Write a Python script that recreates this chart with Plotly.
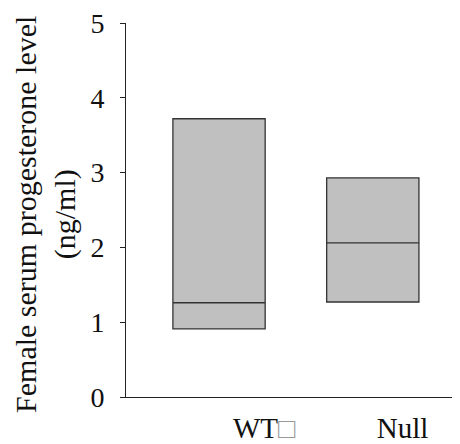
import plotly.graph_objects as go

# Data (ng/ml)
groups = ["WT", "Null"]
tick_labels = ["WT<span style='color:#999'>□</span>", "Null"]
low_vals = [0.91, 1.27]
median_vals = [1.26, 2.06]
high_vals = [3.72, 2.93]
y_ticks = [0, 1, 2, 3, 4, 5]

positions = [1, 2]
label_offsets = [0.294, 0.193]

FONT = "Liberation Serif, Times New Roman, serif"

fig = go.Figure()
for i, g in enumerate(groups):
    fig.add_trace(go.Box(
        x=[positions[i]],
        q1=[low_vals[i]],
        median=[median_vals[i]],
        q3=[high_vals[i]],
        lowerfence=[low_vals[i]],
        upperfence=[high_vals[i]],
        width=0.6,
        whiskerwidth=0,
        fillcolor="#c0c0c0",
        line=dict(color="#333333", width=1.3),
        showlegend=False,
        name=g,
    ))

fig.update_layout(
    width=452, height=436,
    margin=dict(l=118, r=0, t=15, b=44),
    paper_bgcolor="white", plot_bgcolor="white",
    font=dict(family=FONT, color="#111111", size=28),
    xaxis=dict(
        range=[0.395, 2.567],
        showgrid=False, zeroline=False,
        showline=True, linecolor="#222222", linewidth=1,
        tickmode="array",
        tickvals=[p + o for p, o in zip(positions, label_offsets)],
        ticktext=tick_labels,
        ticks="", tickfont=dict(size=29, family=FONT),
        ticklabelstandoff=5,
        ticklabeloverflow="allow",
    ),
    yaxis=dict(
        range=[0, 5],
        tickmode="array", tickvals=y_ticks,
        showgrid=False, zeroline=False,
        showline=True, linecolor="#222222", linewidth=1,
        ticks="outside", ticklen=5, tickcolor="#222222", tickwidth=1,
        tickfont=dict(size=28, family=FONT),
        ticklabelstandoff=10,
        ticklabeloverflow="allow",
    ),
    annotations=[dict(
        text="Female serum progesterone level<br>(ng/ml)",
        xref="paper", yref="paper",
        x=-0.243, y=0.489, xanchor="center", yanchor="middle",
        textangle=-90, showarrow=False,
        font=dict(size=30, family=FONT, color="#111111"),
    )],
)

fig.write_html("out.html")
